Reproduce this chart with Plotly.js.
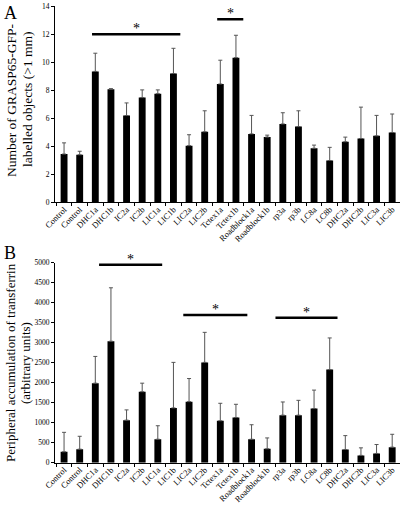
<!DOCTYPE html>
<html>
<head>
<meta charset="utf-8">
<script src="https://cdn.plot.ly/plotly-3.0.1.min.js"></script>
<style>html,body{margin:0;padding:0;background:#fff;}#chart{width:400px;height:506px;}</style>
</head>
<body>
<div id="chart"></div>
<script>
var categories = ["Control","Control","DHC1a","DHC1b","IC2a","IC2b","LIC1a","LIC1b","LIC2a","LIC2b","Tctex1a","Tctex1b","Roadblock1a","Roadblock1b","rp3a","rp3b","LC8a","LC8b","DHC2a","DHC2b","LIC3a","LIC3b"];
var golgiMean = [3.45,3.4,9.35,8.07,6.2,7.48,7.76,9.2,4.05,5.04,8.45,10.33,4.89,4.66,5.6,5.41,3.86,2.99,4.33,4.56,4.75,4.99];
var golgiErr  = [0.8,0.25,1.3,0.05,0.9,0.55,0.27,1.8,0.78,1.5,1.7,1.6,1.32,0.14,0.8,1.13,0.23,0.94,0.33,2.24,1.46,1.32];
var tfMean = [272,338,1988,3036,1064,1774,586,1370,1526,2508,1048,1130,586,347,1188,1188,1353,2327,330,182,231,388];
var tfErr  = [487,322,669,1337,256,214,338,1138,578,751,437,330,363,272,330,371,462,792,347,189,223,322];
// significance brackets: [x0, x1, y]
var sigA = [[1.79,7.44,12.0],[9.8,11.47,13.07]];
var sigB = [[2.24,6.28,4950],[7.63,11.73,3692],[13.53,17.5,3625]];

var idx = categories.map(function(_, i){ return i; });
var zeros = categories.map(function(){ return 0; });
var FONT = "Liberation Serif, Times New Roman, serif";

function barTrace(vals, errs, xa, ya){
  return {
    type: "bar", x: idx, y: vals, xaxis: xa, yaxis: ya,
    marker: {color: "#000"}, width: 0.44,
    error_y: {type: "data", symmetric: false, array: errs, arrayminus: zeros,
      color: "#555", thickness: 1, width: 2},
    hoverinfo: "none"
  };
}

var data = [barTrace(golgiMean, golgiErr, "x", "y"), barTrace(tfMean, tfErr, "x2", "y2")];

function xaxisDef(anchor){
  return {
    domain: [0.1375, 1], range: [-0.58, 21.5], anchor: anchor,
    tickmode: "array", tickvals: idx, ticktext: categories, tickangle: -45,
    ticks: "", showline: true, linecolor: "#000", linewidth: 1,
    showgrid: false, zeroline: false, fixedrange: true,
    ticklabelstandoff: -2,
    tickfont: {family: FONT, size: 8.5, color: "#000"},
    minor: {tickmode: "linear", tick0: 0.5, dtick: 1, ticks: "outside", ticklen: 3, tickcolor: "#000", showgrid: false}
  };
}
function yaxisDef(domain, range, dtick, anchor){
  return {
    domain: domain, range: range, dtick: dtick, anchor: anchor,
    ticks: "outside", ticklen: 3, tickcolor: "#000",
    showline: true, linecolor: "#000", linewidth: 1,
    showgrid: false, zeroline: false, fixedrange: true,
    tickfont: {family: FONT, size: 7.5, color: "#000"}
  };
}

var shapes = [], annotations = [];
sigA.forEach(function(s){
  shapes.push({type: "line", xref: "x", yref: "y", x0: s[0], x1: s[1], y0: s[2], y1: s[2], line: {color: "#000", width: 2.5}});
  annotations.push({xref: "x", yref: "y", x: (s[0]+s[1])/2, y: s[2], text: "*", showarrow: false, yanchor: "bottom", yshift: -4, font: {family: FONT, size: 14, color: "#000"}});
});
sigB.forEach(function(s){
  shapes.push({type: "line", xref: "x2", yref: "y2", x0: s[0], x1: s[1], y0: s[2], y1: s[2], line: {color: "#000", width: 2.5}});
  annotations.push({xref: "x2", yref: "y2", x: (s[0]+s[1])/2, y: s[2], text: "*", showarrow: false, yanchor: "bottom", yshift: -4, font: {family: FONT, size: 14, color: "#000"}});
});

function txt(x, y, t, size, angle){
  return {xref: "paper", yref: "paper", x: x/400, y: 1 - y/506, text: t, showarrow: false,
    xanchor: "center", yanchor: "middle", textangle: angle || 0,
    font: {family: FONT, size: size, color: "#000"}};
}
annotations.push(txt(10, 13, "A", 18));
annotations.push(txt(10, 253, "B", 18));
annotations.push(txt(12, 100, "Number of GRASP65-GFP-", 13.5, -90));
annotations.push(txt(28, 100, "labelled objects (>1 mm)", 13.5, -90));
annotations.push(txt(10, 363, "Peripheral accumulation of transferrin", 13, -90));
annotations.push(txt(25, 363, "(arbitrary units)", 13, -90));

var layout = {
  width: 400, height: 506,
  margin: {l: 0, r: 0, t: 0, b: 0},
  paper_bgcolor: "#fff", plot_bgcolor: "#fff",
  showlegend: false,
  xaxis: xaxisDef("y"),
  yaxis: yaxisDef([0.6, 0.9876], [0, 14], 2, "x"),
  xaxis2: xaxisDef("y2"),
  yaxis2: yaxisDef([0.0856, 0.4808], [0, 5000], 500, "x2"),
  shapes: shapes,
  annotations: annotations
};

Plotly.newPlot("chart", data, layout, {displayModeBar: false, staticPlot: true});
</script>
</body>
</html>
